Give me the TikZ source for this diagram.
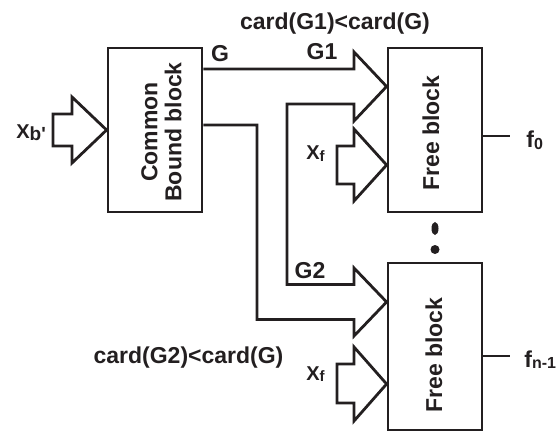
\documentclass[tikz,border=0pt]{standalone}
\usepackage{fontspec}
\setmainfont{Liberation Sans}
\usepackage{tikz}
\usetikzlibrary{calc, positioning}
\definecolor{mainInk}{HTML}{231F20}
\newcommand{\lowsub}[2][15]{\raisebox{-1.5pt}{\fontsize{#1}{#1}\selectfont #2}}

\begin{document}
\begin{tikzpicture}[x=1pt, y=-1pt, line width=2.8pt, mainInk,
    blockbox/.style={draw, minimum width=94pt, inner sep=0pt},
    lbl/.style={font=\fontsize{23}{24}\selectfont\bfseries, text=mainInk, inner sep=0pt},
    small/.style={font=\fontsize{20}{21}\selectfont\bfseries, text=mainInk, inner sep=0pt}]
    \useasboundingbox (0,0) rectangle (560,433);

    % blocks
    \node[blockbox, minimum height=164pt] (cbb) at (155,130) {};
    \node[blockbox, minimum height=164pt] (fb1) at (435,130) {};
    \node[blockbox, minimum height=167pt] (fb2) at (435,346.5) {};
    \node[lbl, rotate=90, align=center] (cbbtext) at (161.5,132) {Common\\Bound block};
    \node[lbl, rotate=90] (fb1text) at (431,133) {Free block};
    \node[lbl, rotate=90] (fb2text) at (434,355) {Free block};

    % split of G into G1 and G2
    \draw (cbb.east |- 0,69) -- (354,69) -- (354,52) -- (fb1.west |- 0,86.5) -- (354,121)
        -- (354,104) -- (287,104) -- (287,284.5) -- (354,284.5) -- (354,268)
        -- (fb2.west |- 0,302) -- (354,336) -- (354,319.5) -- (257,319.5) -- (257,125) -- (cbb.east |- 0,125);

    % input arrows
    \draw (53,114) -- (72,114) -- (72,97) -- (cbb.west |- 0,130) -- (72,163) -- (72,146) -- (53,146) -- cycle;
    \draw (337,146) -- (354,146) -- (354,129) -- (fb1.west |- 0,165) -- (354,201) -- (354,184) -- (337,184) -- cycle;
    \draw (337,364) -- (354,364) -- (354,347) -- (fb2.west |- 0,384) -- (354,421) -- (354,403) -- (337,403) -- cycle;

    % outputs
    \coordinate (o1) at (510,136);
    \coordinate (o2) at (510,356);
    \draw (fb1.east |- o1) -- (o1);
    \draw (fb2.east |- o2) -- (o2);

    \fill (435,228.5) ellipse (3.5 and 6.5);
    \fill (435,249.5) circle (4.5);

    % labels
    \node[lbl, anchor=base] (c1lbl) at (335,30) {card(G1)<card(G)};
    \node[lbl, anchor=base] (c2lbl) at (188.5,363) {card(G2)<card(G)};
    \node[lbl, anchor=base] (glbl) at (220,62) {G};
    \node[lbl, anchor=base] (g1lbl) at (322,60) {G1};
    \node[lbl, anchor=base] (g2lbl) at (310,278) {G2};
    \node[small, anchor=base west] (xblbl) at (15,139) {X\lowsub[19]{b\textquotesingle}};
    \node[small, anchor=base west] (xf1lbl) at (305,160) {X\lowsub{f}};
    \node[small, anchor=base west] (xf2lbl) at (305,380) {X\lowsub{f}};
    \node[lbl, anchor=base west] (f0lbl) at (525,148) {f\lowsub[16]{0}};
    \node[lbl, anchor=base west] (fnlbl) at (523,367) {f\lowsub[16]{n-1}};
\end{tikzpicture}
\end{document}
